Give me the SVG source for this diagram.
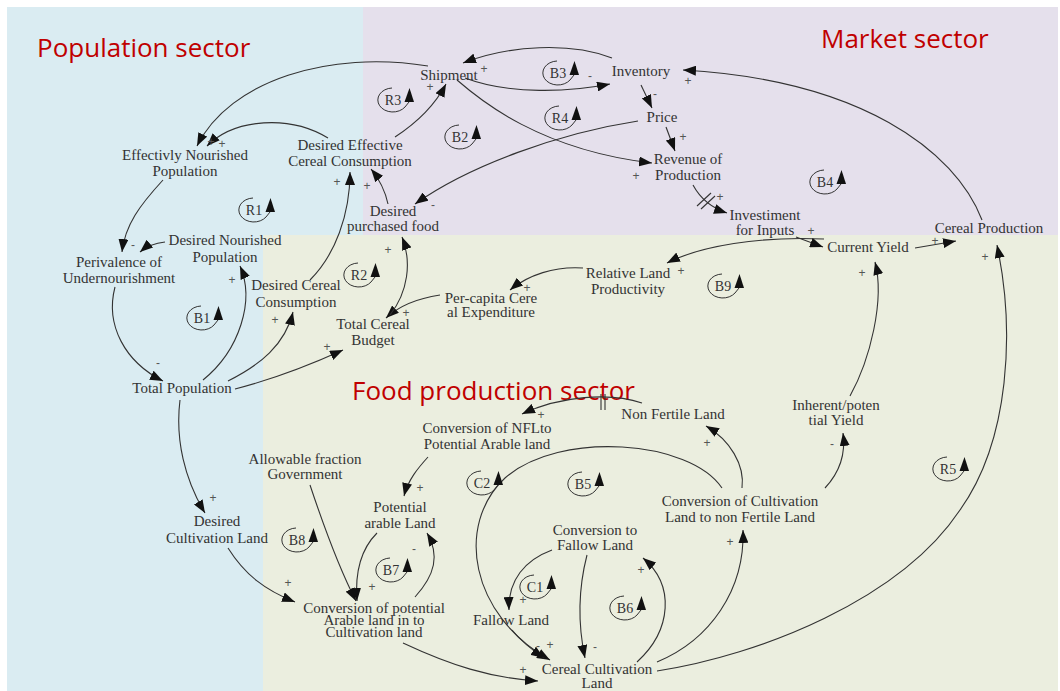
<svg xmlns="http://www.w3.org/2000/svg" width="1060" height="691" viewBox="0 0 1060 691">
<style>
.n{font-family:"Liberation Serif","Times New Roman",serif;font-size:15px;fill:#333;text-anchor:middle}
.t{font-family:"Open Sans","Noto Sans",sans-serif;font-size:26px;fill:#C00000}
.p{font-family:"Liberation Sans",Arial,sans-serif;font-size:12px;fill:#555;text-anchor:middle}
.c{fill:none;stroke:#333;stroke-width:1.1;marker-end:url(#ah)}
.h{stroke:#333;stroke-width:1.1}
.lt{font-family:"Liberation Serif","Times New Roman",serif;font-size:14px;fill:#333;text-anchor:middle}
</style>
<defs>
<marker id="ah" markerWidth="13" markerHeight="10" refX="13" refY="5" orient="auto" markerUnits="userSpaceOnUse"><path d="M0,0 L13,5 L0,10 z" fill="#111"/></marker>
<g id="loop"><path d="M -1,-12 A 15 12 0 1 0 12,7 L 16,2" fill="none" stroke="#333" stroke-width="1"/><path d="M 11.5,2 L 21,2 L 16.5,-12 z" fill="#111"/></g>
</defs>

<g id="sectors">
<rect x="7" y="7" width="356" height="228" fill="#DAECF2"/>
<rect x="7" y="235" width="256" height="456" fill="#DAECF2"/>
<rect x="363" y="7" width="695" height="228" fill="#E5E0EC"/>
<rect x="263" y="235" width="795" height="456" fill="#EBEEDF"/>
<text class="t" x="37" y="57">Population sector</text>
<text class="t" x="821" y="48">Market sector</text>
<text class="t" x="352" y="400">Food production sector</text>
</g>

<g id="connectors">
<path class="c" d="M 428,66 C 330,50 230,80 197,146"/>
<path class="c" d="M 328,138 C 290,115 235,118 207,146"/>
<path class="c" d="M 395,137 C 418,122 435,105 446,84"/>
<path class="c" d="M 612,58 C 570,42 510,45 463,63"/>
<path class="c" d="M 465,78 C 510,95 570,92 610,84"/>
<path class="c" d="M 457,80 C 480,100 540,150 652,163"/>
<path class="c" d="M 638,121 C 560,133 470,165 415,204"/>
<path class="c" d="M 641,85 L 652,108"/>
<path class="c" d="M 666,127 L 675,151"/>
<path class="c" d="M 693,185 C 700,198 712,208 727,213"/>
<line class="h" x1="697" y1="206" x2="711" y2="193"/>
<line class="h" x1="701" y1="209" x2="715" y2="196"/>
<path class="c" d="M 796,237 L 823,247"/>
<path class="c" d="M 915,248 L 956,241"/>
<path class="c" d="M 982,220 C 955,150 860,80 683,70"/>
<path class="c" d="M 824,239 C 760,236 700,246 667,263"/>
<path class="c" d="M 583,268 C 555,266 528,275 510,290"/>
<path class="c" d="M 440,295 C 420,298 400,305 386,318"/>
<path class="c" d="M 390,315 C 408,292 412,262 402,237"/>
<path class="c" d="M 388,204 C 385,190 380,180 371,169"/>
<path class="c" d="M 310,280 C 335,255 350,215 350,172"/>
<path class="c" d="M 228,381 C 260,365 285,345 293,312"/>
<path class="c" d="M 235,389 C 270,380 310,365 343,350"/>
<path class="c" d="M 203,380 C 240,350 255,300 240,266"/>
<path class="c" d="M 165,242 C 155,243 147,246 140,252"/>
<path class="c" d="M 163,180 C 140,205 125,225 122,252"/>
<path class="c" d="M 115,287 C 105,325 125,362 163,381"/>
<path class="c" d="M 180,400 C 175,440 185,480 205,513"/>
<path class="c" d="M 228,548 C 245,575 265,590 295,602"/>
<path class="c" d="M 310,485 C 325,530 340,570 356,601"/>
<path class="c" d="M 377,533 C 360,550 355,575 357,601"/>
<path class="c" d="M 415,597 C 435,575 440,555 427,533"/>
<path class="c" d="M 428,457 C 418,468 408,480 404,496"/>
<path class="c" d="M 642,403 C 610,392 560,396 522,414"/>
<line class="h" x1="601" y1="394" x2="601" y2="410"/>
<line class="h" x1="605" y1="394" x2="605" y2="410"/>
<path class="c" d="M 742,488 C 745,465 730,440 706,426"/>
<path class="c" d="M 722,488 C 690,440 560,430 505,478 C 455,525 470,615 550,660"/>
<path class="c" d="M 512,630 C 522,642 532,650 544,658"/>
<path class="c" d="M 403,643 C 450,665 490,678 538,681"/>
<path class="c" d="M 552,550 C 525,560 508,580 509,610"/>
<path class="c" d="M 587,555 C 578,590 578,625 585,658"/>
<path class="c" d="M 637,662 C 672,630 675,585 643,558"/>
<path class="c" d="M 657,662 C 710,640 745,590 743,530"/>
<path class="c" d="M 657,671 C 760,655 900,600 960,510 C 1010,440 1015,330 997,245"/>
<path class="c" d="M 825,488 C 840,472 846,455 843,433"/>
<path class="c" d="M 850,396 C 870,360 885,300 875,262"/>
</g>

<g id="polarities">
<text class="p" x="211" y="146">+</text>
<text class="p" x="222" y="148">+</text>
<text class="p" x="430" y="91">+</text>
<text class="p" x="484" y="73">+</text>
<text class="p" x="590" y="80">-</text>
<text class="p" x="655" y="98">-</text>
<text class="p" x="683" y="141">+</text>
<text class="p" x="636" y="180">+</text>
<text class="p" x="720" y="201">+</text>
<text class="p" x="688" y="85">+</text>
<text class="p" x="433" y="209">-</text>
<text class="p" x="337" y="186">+</text>
<text class="p" x="367" y="190">+</text>
<text class="p" x="811" y="235">+</text>
<text class="p" x="935" y="245">+</text>
<text class="p" x="985" y="261">+</text>
<text class="p" x="862" y="277">+</text>
<text class="p" x="832" y="448">-</text>
<text class="p" x="681" y="275">+</text>
<text class="p" x="527" y="292">+</text>
<text class="p" x="406" y="317">+</text>
<text class="p" x="388" y="254">+</text>
<text class="p" x="275" y="324">+</text>
<text class="p" x="327" y="351">+</text>
<text class="p" x="232" y="284">+</text>
<text class="p" x="133" y="249">-</text>
<text class="p" x="158" y="367">-</text>
<text class="p" x="213" y="502">+</text>
<text class="p" x="288" y="587">+</text>
<text class="p" x="372" y="591">+</text>
<text class="p" x="414" y="553">-</text>
<text class="p" x="420" y="492">+</text>
<text class="p" x="541" y="419">+</text>
<text class="p" x="707" y="447">+</text>
<text class="p" x="523" y="604">+</text>
<text class="p" x="538" y="650">-</text>
<text class="p" x="550" y="649">+</text>
<text class="p" x="523" y="674">+</text>
<text class="p" x="595" y="651">-</text>
<text class="p" x="641" y="574">+</text>
<text class="p" x="730" y="546">+</text>
</g>

<g id="loops">
<g id="loop-R1" transform="translate(254,210)"><use href="#loop"/><text class="lt" y="5">R1</text></g>
<g id="loop-B1" transform="translate(202,318)"><use href="#loop"/><text class="lt" y="5">B1</text></g>
<g id="loop-R2" transform="translate(359,275)"><use href="#loop"/><text class="lt" y="5">R2</text></g>
<g id="loop-R3" transform="translate(393,100)"><use href="#loop"/><text class="lt" y="5">R3</text></g>
<g id="loop-B2" transform="translate(460,137)"><use href="#loop"/><text class="lt" y="5">B2</text></g>
<g id="loop-B3" transform="translate(558,73)"><use href="#loop"/><text class="lt" y="5">B3</text></g>
<g id="loop-R4" transform="translate(560,118)"><use href="#loop"/><text class="lt" y="5">R4</text></g>
<g id="loop-B4" transform="translate(825,182)"><use href="#loop"/><text class="lt" y="5">B4</text></g>
<g id="loop-B9" transform="translate(723,286)"><use href="#loop"/><text class="lt" y="5">B9</text></g>
<g id="loop-C2" transform="translate(482,483)"><use href="#loop"/><text class="lt" y="5">C2</text></g>
<g id="loop-B5" transform="translate(583,484)"><use href="#loop"/><text class="lt" y="5">B5</text></g>
<g id="loop-B8" transform="translate(297,540)"><use href="#loop"/><text class="lt" y="5">B8</text></g>
<g id="loop-B7" transform="translate(391,570)"><use href="#loop"/><text class="lt" y="5">B7</text></g>
<g id="loop-C1" transform="translate(535,587)"><use href="#loop"/><text class="lt" y="5">C1</text></g>
<g id="loop-B6" transform="translate(625,608)"><use href="#loop"/><text class="lt" y="5">B6</text></g>
<g id="loop-R5" transform="translate(948,469)"><use href="#loop"/><text class="lt" y="5">R5</text></g>
</g>

<g id="node-shipment"><text class="n" x="449" y="80">Shipment</text></g>
<g id="node-inventory"><text class="n" x="641" y="76">Inventory</text></g>
<g id="node-price"><text class="n" x="662" y="122">Price</text></g>
<g id="node-revenue"><text class="n" x="688" y="164">Revenue of</text><text class="n" x="688" y="180">Production</text></g>
<g id="node-investment"><text class="n" x="765" y="220">Investiment</text><text class="n" x="765" y="235">for Inputs</text></g>
<g id="node-cereal-production"><text class="n" x="989" y="233">Cereal Production</text></g>
<g id="node-current-yield"><text class="n" x="868" y="252">Current Yield</text></g>
<g id="node-relative-land"><text class="n" x="628" y="278">Relative Land</text><text class="n" x="628" y="294">Productivity</text></g>
<g id="node-per-capita"><text class="n" x="491" y="303">Per-capita Cere</text><text class="n" x="491" y="317">al Expenditure</text></g>
<g id="node-total-cereal-budget"><text class="n" x="373" y="329">Total Cereal</text><text class="n" x="373" y="345">Budget</text></g>
<g id="node-desired-cereal"><text class="n" x="296" y="290">Desired Cereal</text><text class="n" x="296" y="307">Consumption</text></g>
<g id="node-desired-effective"><text class="n" x="350" y="150">Desired Effective</text><text class="n" x="350" y="166">Cereal Consumption</text></g>
<g id="node-desired-purchased"><text class="n" x="393" y="216">Desired</text><text class="n" x="393" y="231">purchased food</text></g>
<g id="node-effectivly-nourished"><text class="n" x="185" y="160">Effectivly Nourished</text><text class="n" x="185" y="176">Population</text></g>
<g id="node-desired-nourished"><text class="n" x="225" y="245">Desired Nourished</text><text class="n" x="225" y="262">Population</text></g>
<g id="node-perivalence"><text class="n" x="119" y="267">Perivalence of</text><text class="n" x="119" y="283">Undernourishment</text></g>
<g id="node-total-population"><text class="n" x="182" y="393">Total Population</text></g>
<g id="node-desired-cultivation"><text class="n" x="217" y="526">Desired</text><text class="n" x="217" y="543">Cultivation Land</text></g>
<g id="node-allowable"><text class="n" x="305" y="464">Allowable fraction</text><text class="n" x="305" y="479">Government</text></g>
<g id="node-potential-arable"><text class="n" x="400" y="512">Potential</text><text class="n" x="400" y="528">arable Land</text></g>
<g id="node-conversion-potential"><text class="n" x="374" y="613">Conversion of potential</text><text class="n" x="374" y="625">Arable land in to</text><text class="n" x="374" y="637">Cultivation land</text></g>
<g id="node-conversion-nfl"><text class="n" x="487" y="433">Conversion of NFLto</text><text class="n" x="487" y="449">Potential Arable land</text></g>
<g id="node-non-fertile"><text class="n" x="673" y="419">Non Fertile Land</text></g>
<g id="node-inherent"><text class="n" x="836" y="410">Inherent/poten</text><text class="n" x="836" y="425">tial Yield</text></g>
<g id="node-conversion-cultivation"><text class="n" x="740" y="506">Conversion of Cultivation</text><text class="n" x="740" y="522">Land to non Fertile Land</text></g>
<g id="node-conversion-fallow"><text class="n" x="595" y="535">Conversion to</text><text class="n" x="595" y="550">Fallow Land</text></g>
<g id="node-fallow"><text class="n" x="511" y="625">Fallow Land</text></g>
<g id="node-cereal-cultivation"><text class="n" x="597" y="674">Cereal Cultivation</text><text class="n" x="597" y="688">Land</text></g>
</svg>
